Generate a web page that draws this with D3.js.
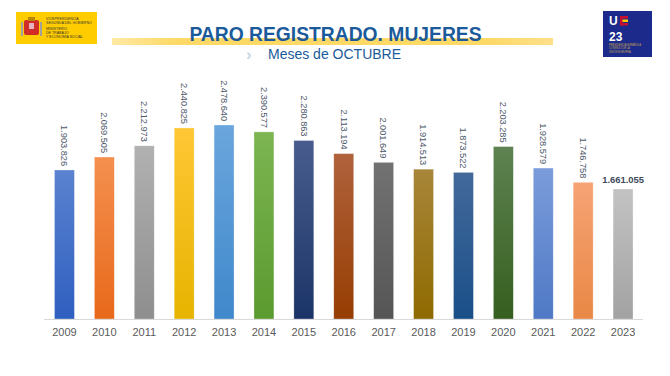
<!DOCTYPE html>
<html>
<head>
<meta charset="utf-8">
<script src="https://cdn.jsdelivr.net/npm/d3@7"></script>
<style>
  html, body { margin: 0; padding: 0; background: #fff; }
  svg { display: block; font-family: "Liberation Sans", Arial, sans-serif; }
</style>
</head>
<body>
<svg id="chart" width="670" height="376"></svg>
<script>
// Paro registrado, mujeres — meses de octubre
const YEARS = ["2009", "2010", "2011", "2012", "2013", "2014", "2015", "2016",
  "2017", "2018", "2019", "2020", "2021", "2022", "2023"];
const VALUES = [1903826, 2069505, 2212973, 2440825, 2478640, 2390577, 2280863, 2113194,
  2001649, 1914513, 1873522, 2203285, 1928579, 1746758, 1661055];
// top / bottom of each bar's gradient
const COLORS_TOP = ["#5a82cf", "#f4904f", "#b1b1b1", "#ffc735", "#6ba6dd", "#7cb552", "#485d8d",
  "#b0623c", "#727272", "#a8863a", "#43699b", "#5e8251", "#7b9cdb", "#f6a375", "#c3c3c3"];
const COLORS_BOTTOM = ["#2f5fc0", "#e8691b", "#8e8e8e", "#e7b400", "#3f88cb", "#5b9a2f", "#1b3467",
  "#963d02", "#555555", "#8f6a00", "#1a4f88", "#365e1f", "#4f79c5", "#e98845", "#a2a2a2"];

const fmt = (v) => d3.format(",")(v).replace(/,/g, ".");

const svg = d3.select("#chart");
const defs = svg.append("defs");

// ---- header -------------------------------------------------------------
const hdr = svg.append("g").attr("class", "header");

// ministry logo (left)
const lg = hdr.append("g");
lg.append("rect").attr("x", 16).attr("y", 12).attr("width", 81).attr("height", 32).attr("fill", "#ffcc00");
lg.append("rect").attr("x", 24).attr("y", 20).attr("width", 15).attr("height", 15).attr("rx", 2).attr("fill", "#c8102e").attr("opacity", 0.85);
lg.append("rect").attr("x", 28).attr("y", 17).attr("width", 7).attr("height", 4).attr("fill", "#b8860b");
lg.append("rect").attr("x", 21).attr("y", 22).attr("width", 2).attr("height", 14).attr("fill", "#a0a0a0");
lg.append("rect").attr("x", 40).attr("y", 22).attr("width", 2).attr("height", 14).attr("fill", "#a0a0a0");
lg.append("rect").attr("x", 29).attr("y", 23).attr("width", 5).attr("height", 6).attr("fill", "#e8b0c0");
const lt = lg.append("text").attr("fill", "#333").style("font-size", "3.6px");
[["VICEPRESIDENCIA", 19.5], ["SEGUNDA DEL GOBIERNO", 23.5], ["MINISTERIO", 30], ["DE TRABAJO", 34], ["Y ECONOMÍA SOCIAL", 38]]
  .forEach(([t, y]) => lt.append("tspan").attr("x", 46).attr("y", y).text(t));

// EU presidency logo (right)
const rg = hdr.append("g");
rg.append("rect").attr("x", 603).attr("y", 11).attr("width", 49).attr("height", 46).attr("fill", "#1c2a8c");
rg.append("text").attr("x", 609).attr("y", 25).attr("fill", "#fff").style("font-size", "12px").style("font-weight", "bold").text("U");
[["#c8102e", 16], ["#ffcc00", 19.5], ["#c8102e", 23]].forEach(([c, y]) => {
  rg.append("rect").attr("x", 620).attr("y", y).attr("width", 8).attr("height", 2.5).attr("fill", c);
});
rg.append("rect").attr("x", 620).attr("y", 16).attr("width", 2.5).attr("height", 9.5).attr("fill", "#c8102e");
rg.append("text").attr("x", 609).attr("y", 41).attr("fill", "#fff").style("font-size", "12px").style("font-weight", "bold").text("23");
const rt = rg.append("text").attr("fill", "#c9a84a").style("font-size", "2.6px");
[["PRESIDENCIA ESPAÑOLA", 45.5], ["CONSEJO DE LA", 49], ["UNIÓN EUROPEA", 52.5]]
  .forEach(([t, y]) => rt.append("tspan").attr("x", 609).attr("y", y).text(t));

// title with yellow band
const band = defs.append("linearGradient").attr("id", "band");
band.append("stop").attr("offset", "0%").attr("stop-color", "#ffe9a3");
band.append("stop").attr("offset", "15%").attr("stop-color", "#ffd966");
band.append("stop").attr("offset", "85%").attr("stop-color", "#ffd966");
band.append("stop").attr("offset", "100%").attr("stop-color", "#ffe08a");
hdr.append("rect").attr("x", 112).attr("y", 38).attr("width", 441).attr("height", 7).attr("fill", "url(#band)");
hdr.append("text")
  .attr("x", 335.5).attr("y", 41)
  .attr("text-anchor", "middle")
  .attr("fill", "#1b5a9a")
  .style("font-size", "19.3px").style("font-weight", "bold")
  .text("PARO REGISTRADO. MUJERES");
hdr.append("text")
  .attr("x", 246).attr("y", 60)
  .attr("fill", "#c9d6e8")
  .style("font-size", "17px").style("font-weight", "bold")
  .text("›");
hdr.append("text")
  .attr("x", 268).attr("y", 59)
  .attr("fill", "#1b5a9a")
  .style("font-size", "14px")
  .text("Meses de OCTUBRE");

// ---- bars ----------------------------------------------------------------
const x = d3.scaleBand().domain(YEARS).range([44.5, 643]).paddingInner(0.5).paddingOuter(0.25);
const y = d3.scaleLinear().domain([0, d3.max(VALUES)]).range([319, 125]);

YEARS.forEach((yr, i) => {
  const gr = defs.append("linearGradient").attr("id", `g${yr}`).attr("x1", 0).attr("y1", 0).attr("x2", 0).attr("y2", 1);
  gr.append("stop").attr("offset", "0%").attr("stop-color", COLORS_TOP[i]);
  gr.append("stop").attr("offset", "100%").attr("stop-color", COLORS_BOTTOM[i]);
});

const data = YEARS.map((yr, i) => ({ year: yr, value: VALUES[i] }));

svg.append("g").attr("class", "bars")
  .selectAll("rect")
  .data(data)
  .join("rect")
    .attr("x", (d) => x(d.year))
    .attr("y", (d) => y(d.value))
    .attr("width", x.bandwidth())
    .attr("height", (d) => y(0) - y(d.value))
    .attr("fill", (d) => `url(#g${d.year})`)
    .attr("stroke", "#ffffff").attr("stroke-opacity", 0.5).attr("stroke-width", 0.6);

// axis
const xAxis = svg.append("g")
  .attr("transform", `translate(0,${y(0)})`)
  .call(d3.axisBottom(x).tickSize(0).tickPadding(9));
xAxis.select(".domain").attr("stroke", "#d9d9d9").attr("d", "M44,0.5H643");
xAxis.selectAll("text")
  .attr("fill", "#595959")
  .style("font-size", "11px")
  .style("font-family", "'Liberation Sans', Arial, sans-serif");

// value labels: rotated, except the last one
const last = data[data.length - 1];
svg.append("g").attr("class", "labels")
  .selectAll("text")
  .data(data.slice(0, -1))
  .join("text")
    .attr("transform", (d) => `translate(${x(d.year) + x.bandwidth() / 2},${y(d.value) - 4}) rotate(90)`)
    .attr("text-anchor", "end")
    .attr("dy", "0.35em")
    .attr("fill", "#4f5a6b")
    .style("font-size", "9.2px")
    .text((d) => fmt(d.value));

svg.append("text")
  .attr("x", x(last.year) + x.bandwidth() / 2)
  .attr("y", y(last.value) - 6)
  .attr("text-anchor", "middle")
  .attr("fill", "#3e4a5c")
  .style("font-size", "9.4px")
  .style("font-weight", "bold")
  .text(fmt(last.value));
</script>
</body>
</html>
